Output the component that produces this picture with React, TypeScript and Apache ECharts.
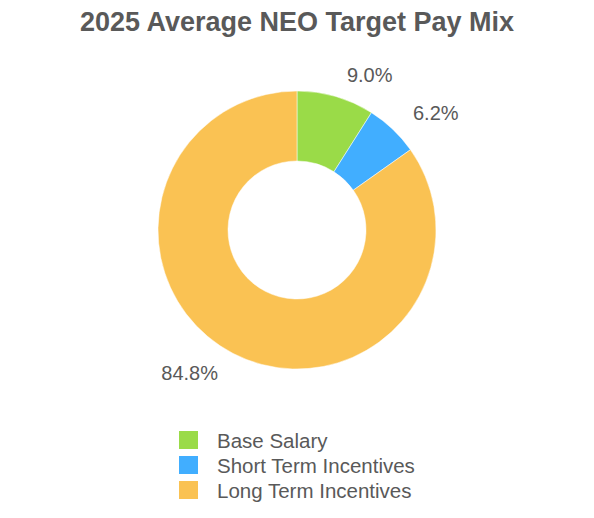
import React, { useEffect, useRef } from "react";
import * as echarts from "echarts";

const categories = ["Base Salary", "Short Term Incentives", "Long Term Incentives"];
const values = [9.0, 6.2, 84.8];
const colors = ["#9ADB48", "#41AEFF", "#FAC253"];

export default function App() {
  const ref = useRef<HTMLDivElement>(null);
  useEffect(() => {
    if (!ref.current) return;
    const chart = echarts.init(ref.current, null, { renderer: "svg" });
    chart.setOption({
      animation: false,
      backgroundColor: "#ffffff",
      title: {
        text: "2025 Average NEO Target Pay Mix",
        left: "center",
        top: 3,
        textStyle: {
          fontFamily: "Liberation Sans, Arial, sans-serif",
          fontSize: 27,
          fontWeight: "bold",
          color: "#595959",
        },
      },
      legend: {
        orient: "vertical",
        left: 172,
        top: 424,
        itemWidth: 21,
        itemHeight: 20,
        itemGap: 3,
        icon: "rect",
        data: categories,
        textStyle: {
          fontFamily: "Liberation Sans, Arial, sans-serif",
          fontSize: 20.5,
          lineHeight: 20,
          height: 20,
          color: "#595959",
          padding: [0, 0, 0, 13],
        },
      },
      series: [
        {
          type: "pie",
          center: [297, 230],
          radius: [69, 139],
          startAngle: 90,
          clockwise: true,
          avoidLabelOverlap: false,
          itemStyle: { borderColor: "#ffffff", borderWidth: 0.5 },
          label: {
            show: true,
            position: "outside",
            formatter: (p: any) => p.value.toFixed(1) + "%",
            fontFamily: "Liberation Sans, Arial, sans-serif",
            fontSize: 20,
            color: "#595959",
          },
          labelLine: { show: false, length: 22, length2: 0 },
          data: categories.map((c, i) => ({
            name: c,
            value: values[i],
            itemStyle: { color: colors[i] },
          })),
        },
      ],
    });
    return () => chart.dispose();
  }, []);
  return (
    <div
      ref={ref}
      style={{ position: "fixed", left: 0, top: 0, width: 594, height: 518 }}
    />
  );
}
